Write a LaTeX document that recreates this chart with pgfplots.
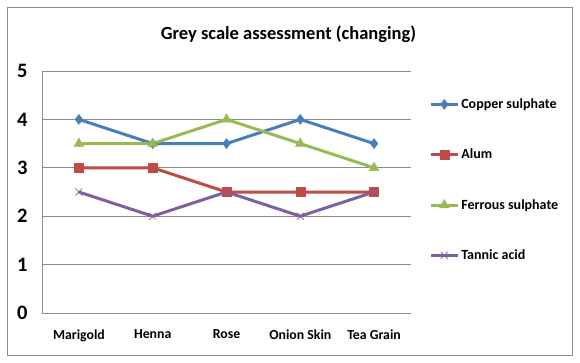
\documentclass[border=0pt]{standalone}
\usepackage{pgfplots}
\pgfplotsset{compat=1.18}
\usepackage{fontspec}
\setmainfont{Carlito}
\definecolor{cB}{HTML}{4A7EBB}
\definecolor{cR}{HTML}{BE4B48}
\definecolor{cG}{HTML}{98B954}
\definecolor{cP}{HTML}{7D60A0}
\definecolor{gridc}{HTML}{8C8C8C}
\begin{document}
\begin{tikzpicture}[x=1pt,y=1pt]
\path (0,0) rectangle (580,362);
\draw[gridc, line width=0.8pt] (7,7) rectangle (572,355);
\node[font=\fontsize{18.5}{22}\selectfont\bfseries] at (288.5,328) {Grey scale assessment (changing)};
\begin{axis}[
  at={(42pt,49pt)}, anchor=south west, scale only axis,
  width=369pt, height=242pt,
  xmin=-0.5, xmax=4.5, ymin=0, ymax=5,
  xtick={0,1,2,3,4},
  xticklabels={Marigold,Henna,Rose,Onion Skin,Tea Grain},
  ytick={0,1,2,3,4,5},
  ymajorgrids,
  grid style={gridc, line width=0.8pt},
  axis x line*=bottom, axis y line*=left,
  axis line style={gridc, line width=0.8pt, -},
  major tick length=0pt,
  /pgf/number format/assume math mode=true,
  xticklabel style={font=\fontsize{13.8}{16}\selectfont\bfseries, yshift=-13pt},
  yticklabel style={font=\fontsize{20.5}{24}\selectfont\bfseries, xshift=-11pt},
  legend style={draw=none, fill=none, at={(1.041,0.55)}, anchor=west,
    font=\fontsize{14}{16}\selectfont\bfseries, row sep=35pt,
    /tikz/every even column/.append style={column sep=0pt}},
  legend cell align=left,
  legend image code/.code={\draw[mark repeat=2,mark phase=2,#1] plot coordinates {(0pt,0pt)(13.5pt,0pt)(27pt,0pt)};},
  every axis plot/.append style={line width=3pt},
]
\addplot[cB, mark=diamond*, mark size=5pt, mark options={line width=0.5pt}] coordinates {(0,4) (1,3.5) (2,3.5) (3,4) (4,3.5)};
\addlegendentry{Copper sulphate}
\addplot[cR, mark=square*, mark size=4.5pt, mark options={line width=0.5pt}] coordinates {(0,3) (1,3) (2,2.5) (3,2.5) (4,2.5)};
\addlegendentry{Alum}
\addplot[cG, mark=triangle*, mark size=5.5pt, mark options={line width=0.5pt}] coordinates {(0,3.5) (1,3.5) (2,4) (3,3.5) (4,3)};
\addlegendentry{Ferrous sulphate}
\addplot[cP, mark=x, mark size=5pt, mark options={line width=0.7pt}] coordinates {(0,2.5) (1,2) (2,2.5) (3,2) (4,2.5)};
\addlegendentry{Tannic acid}
\end{axis}
\end{tikzpicture}
\end{document}
